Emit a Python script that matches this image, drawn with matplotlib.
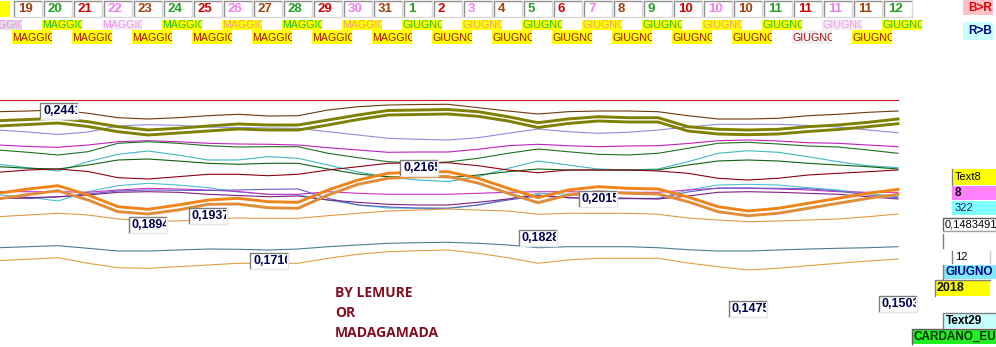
import numpy as np
import matplotlib.pyplot as plt
from matplotlib.patches import Rectangle

# ---- data (y = screen row of each series at each date slot) ----
days = [19, 20, 21, 22, 23, 24, 25, 26, 27, 28, 29, 30, 31, 1, 2, 3, 4, 5, 6, 7,
        8, 9, 10, 10, 10, 11, 11, 11, 11, 12]
day_colors = ['#a0400a', '#20a020', '#d00000', '#f080f0']

row2_months = ['MAGGIO', 'MAGGIO', 'MAGGIO', 'MAGGIO', 'MAGGIO', 'MAGGIO', 'MAGGIO',
               'GIUGNO', 'GIUGNO', 'GIUGNO', 'GIUGNO', 'GIUGNO', 'GIUGNO', 'GIUGNO',
               'GIUGNO', 'GIUGNO']
row2_text = ['#f090f0', '#20c020', '#f090f0', '#20c020', '#f0a070', '#20c020', '#f0a070',
             '#20c020', '#f0a070', '#20c020', '#f0a070', '#20c020', '#f0a070', '#20c020',
             '#f0a0f0', '#20c020']
row2_bg = ['#e4dce4', '#ffff00', '#f6eef6', '#ffff00', '#ffff00', '#ffff00', '#ffff00',
           '#ffff00', '#ffff00', '#ffff00', '#ffff00', '#ffff00', '#ffff00', '#ffff00',
           '#f4eaf4', '#ffff00']
row3_months = ['MAGGIO', 'MAGGIO', 'MAGGIO', 'MAGGIO', 'MAGGIO', 'MAGGIO', 'MAGGIO',
               'GIUGNO', 'GIUGNO', 'GIUGNO', 'GIUGNO', 'GIUGNO', 'GIUGNO', 'GIUGNO',
               'GIUGNO']
row3_bg = ['#ffff00'] * 13 + ['#f0f0f0', '#ffff00']

red_top = [100, 100, 100, 100, 100, 100, 100, 100, 100, 100, 100, 100, 100, 100, 100, 100,
           100, 100, 100, 100, 100, 100, 100, 100, 100, 100, 100, 100, 100, 100, 100]
brown = [111.7, 111, 110, 113.3, 117.7, 119, 117.7, 115.7, 114.3, 116, 115.7, 110, 106.7, 105,
         104.5, 104.3, 107.7, 111, 114, 111.7, 111, 111, 111.7, 115.7, 119, 119, 118.3, 115.7,
         114.3, 112.3, 111]
olive_a = [120.7, 119.5, 118.3, 121.7, 126.7, 130, 128.3, 126, 124, 125, 125, 120, 115, 110.5,
           110, 109.5, 111.7, 116.7, 122.7, 119, 116.7, 117.7, 117.7, 126.7, 129.3, 130, 129.3,
           126.7, 125, 122.3, 119]
olive_b = [126, 124.5, 123, 126.5, 131.7, 135, 133, 131, 129, 130, 130, 125, 119.5, 115, 114.5,
           114, 116.3, 121, 127.5, 123.5, 121, 122, 122, 131, 134, 134.7, 134, 131.5, 129.5,
           126.7, 123.7]
lavender = [130, 132, 134.5, 132, 126, 124.7, 125.3, 127, 127.5, 128, 128.3, 131.7, 135, 138.3,
            139.3, 140, 137.7, 133.3, 129, 131.7, 133.3, 132.3, 130, 127, 124.3, 124.3, 124.3,
            125.5, 127, 130, 132.7]
magenta = [145, 146.5, 147.3, 145, 141.7, 140.7, 141.7, 143.3, 144, 144.3, 145, 147.7, 150,
           152.3, 152, 152, 149.3, 145.7, 144.3, 145.7, 146.7, 146, 145.7, 143.5, 140.7, 140,
           141, 142.7, 143.3, 145, 146.7]
green = [150, 152.3, 155, 151.7, 143.3, 141.7, 143.3, 145.7, 147, 146.7, 146.7, 153.3, 157.7,
         161.7, 163, 162, 158.3, 153.3, 149, 151.7, 154.3, 155, 153.3, 148.3, 143.3, 142.3, 144,
         146, 147, 150, 153.3]
cyan = [164.3, 167.7, 171, 161.7, 154.3, 151, 155, 160, 160, 156.7, 158.3, 165, 172, 177, 180,
        181.5, 176.7, 168.3, 161, 165, 169, 170, 169, 161.7, 153.3, 150.7, 152.3, 156.7, 161.7,
        165.7, 167.7]
green2 = [166.7, 168.3, 169, 165, 160, 159, 161, 163.3, 164.3, 163.3, 163.3, 169, 174, 176.7,
          177, 177.7, 175, 171.7, 169, 170, 170, 170, 170, 165, 161, 160, 161, 163.3, 165,
          166.7, 169]
dark_red = [172.3, 170, 169, 171.5, 177.7, 179, 176.7, 174.3, 174.3, 175.7, 174.3, 170, 166.7,
            163.3, 163, 162.7, 165.7, 170, 172.7, 170, 170, 170, 171, 173.3, 178.3, 180, 178.3,
            175, 173.3, 171.7, 170]
cyan2 = [195, 197, 201, 191.7, 185.7, 183.3, 185, 187.7, 192, 194.3, 195, 200, 205, 208, 208.3,
         208.3, 205, 199, 193.3, 194.3, 196.7, 198.3, 198.3, 190, 185, 184.3, 185, 187.7, 190,
         193.3, 196.7]
magenta2 = [191.7, 191.7, 191.7, 192.3, 190, 188.3, 189, 190, 191.5, 194.3, 194.3, 191.7, 193.3,
            194.3, 194.3, 194.3, 193.3, 192.3, 191.7, 191.7, 192.3, 192.3, 192.3, 190, 188.3,
            188.3, 189, 190, 191.7, 192.3, 192.3]
purple = [198.3, 197.7, 196.7, 195, 192.3, 191.7, 192.3, 194.3, 195.5, 196.7, 196, 200, 202.3,
          204.3, 205, 205, 202.3, 199, 195, 197.7, 198.3, 198.3, 199, 196, 192.3, 191.7, 192.3,
          193.3, 194.3, 196.7, 199]
blue_purple = [198, 198.5, 197, 194, 191, 190, 190.3, 190.5, 190, 189.3, 189, 198.3, 205, 207,
               208, 208.3, 205, 200, 196, 197.7, 198.7, 198.7, 198.7, 192, 188, 188, 188.3,
               188.7, 191, 195, 197.7]
orange_a = [193.3, 189, 185.7, 195, 206.7, 209.3, 205, 200, 198.3, 201.7, 202.3, 190, 180, 173.3,
            172, 171.7, 178.3, 188.3, 197.7, 190, 186.7, 188.3, 189, 197, 206.7, 211, 208.3,
            203.3, 198.3, 193.3, 189.3]
orange_b = [199, 194.5, 190.7, 200, 211.7, 214, 210, 204.3, 204, 207.7, 208.3, 195, 184.3, 178.3,
            176.7, 176.5, 183, 193.3, 202.7, 195, 191.7, 193.3, 194, 201.7, 211.7, 215.7, 213.3,
            208.3, 203.3, 198.3, 194.3]
light_orange = [216.7, 215, 213.3, 215, 219, 221, 221, 219, 218, 218.3, 218.3, 215.7, 213.3, 211,
                210, 209, 210, 211, 214.3, 213.3, 213.3, 213.3, 214.3, 218, 220, 221.7, 221, 220,
                219, 216.7, 214]
teal = [247.7, 246.7, 245.7, 248.3, 251, 251, 250, 249, 249.3, 250, 249, 246.7, 245, 243.3, 242.7,
        242.3, 243.3, 245, 247.7, 246.7, 246.7, 246.7, 247.7, 249.7, 251, 251, 250, 249, 248.3,
        247.7, 246.7]
orange_low = [260.7, 259.3, 257.7, 263.3, 267.7, 268.3, 266.7, 265, 263.3, 263.3, 263.3, 258.3,
              254.3, 251.7, 250.7, 250, 253.3, 257.7, 263.3, 260, 258.3, 258.3, 258.3, 263, 266.7,
              270, 268.3, 265.7, 263.3, 261, 259]

value_labels = ['0,2441', '0,2165', '0,1894', '0,1937', '0,1710', '0,2015', '0,1828', '0,1475',
                '0,1503']
value_pos = [(40, 103), (400, 160), (129, 217), (189, 208), (250, 253), (579, 191), (519, 230),
             (729, 301), (879, 296)]

# ---- figure: one axes in screen units ----
W, H = 996, 347
fig = plt.figure(figsize=(W / 100, H / 100), dpi=100)
ax = fig.add_axes([0, 0, 1, 1])
ax.set_xlim(0, W)
ax.set_ylim(H, 0)
ax.axis('off')

FONT = ['Liberation Sans', 'DejaVu Sans']


def bevel_box(x, y, w, h, face, dark='#808080', light='#e0e0e0', z=5):
    ax.add_patch(Rectangle((x, y), w, h, facecolor=face, edgecolor='none', zorder=z))
    ax.plot([x, x, x + w], [y + h, y, y], color=dark, lw=1, zorder=z + 0.1,
            solid_capstyle='butt')
    ax.plot([x, x + w, x + w], [y + h, y + h, y], color=light, lw=1, zorder=z + 0.1,
            solid_capstyle='butt')


def clipped_text(x, y, w, h, s, color, size, weight='normal', pad=3, z=6):
    t = ax.text(x + pad, y + h / 2, s, color=color, fontsize=size, fontweight=weight,
                va='center', ha='left', family=FONT, zorder=z)
    # text is cut at the control's edge, like the fixed-width boxes on the form
    t.set_clip_path(Rectangle((x, y), w, h, transform=ax.transData))
    t.set_clip_on(True)
    return t


# date boxes
slot_left = [14 + 30 * i for i in range(-1, len(days))]
node_x = np.array(slot_left) + 14
ax.add_patch(Rectangle((0, 1), 10, 16, facecolor='#ffff00', edgecolor='none', zorder=5))
for i, d in enumerate(days):
    x0 = slot_left[i + 1]
    bevel_box(x0, 1, 28, 16, 'white', dark='#909090', light='#d8d8d8')
    clipped_text(x0, 1, 28, 16, str(d), day_colors[i % 4], 9.5, weight='bold', pad=4)

# month rows
for j, m in enumerate(row2_months):
    x0 = -18 + 60 * j
    ax.add_patch(Rectangle((x0, 20), 40, 10, facecolor=row2_bg[j], edgecolor='none', zorder=4))
    clipped_text(x0, 19, 40, 11, m, row2_text[j], 7.7, pad=0.5)
for j, m in enumerate(row3_months):
    x0 = 12 + 60 * j
    ax.add_patch(Rectangle((x0, 30), 40, 14, facecolor=row3_bg[j], edgecolor='none', zorder=4))
    clipped_text(x0, 31, 40, 13, m, '#a81010', 7.7, pad=0.5)

# B>R / R>B buttons
ax.add_patch(Rectangle((963, 0), 30, 15, facecolor='#ffc0c8', edgecolor='none', zorder=4))
ax.text(968, 8, 'B>R', color='#e00000', fontsize=8.5, fontweight='bold', va='center',
        family=FONT, zorder=6)
ax.add_patch(Rectangle((963, 22), 30, 18, facecolor='#c8ffff', edgecolor='none', zorder=4))
ax.text(968, 31, 'R>B', color='#000080', fontsize=8.5, fontweight='bold', va='center',
        family=FONT, zorder=6)

# series lines
thin = [(red_top, '#c81818'), (brown, '#6e3a10'), (lavender, '#8c8ce0'),
        (magenta, '#c020c0'), (green, '#207020'), (cyan, '#40b8c0'), (green2, '#106010'),
        (dark_red, '#900018'), (cyan2, '#50c0c8'), (magenta2, '#c830c8'),
        (blue_purple, '#6060c8'), (purple, '#802080'), (light_orange, '#e09848'),
        (teal, '#4a7e90'), (orange_low, '#e0a040')]
for vals, col in thin:
    ax.plot(node_x, vals, color=col, lw=0.8, zorder=2)
for vals, col in [(olive_a, '#808000'), (olive_b, '#808000'), (orange_a, '#f08418'),
                  (orange_b, '#e08c38')]:
    ax.plot(node_x, vals, color=col, lw=2.1, zorder=3)

# value boxes
for s, (x0, y0) in zip(value_labels, value_pos):
    bevel_box(x0, y0, 38, 16, 'white', dark='#7c7c7c', light='#e4e4e4')
    clipped_text(x0 + 1, y0, 36, 16, s, '#000050', 9, weight='bold', pad=2)

# right side panel
ax.add_patch(Rectangle((952, 169), 44, 16, facecolor='#ffff00', edgecolor='none', zorder=4))
ax.plot([952, 952], [169, 185], color='#808080', lw=1, zorder=5)
ax.text(955, 177, 'Text8', color='black', fontsize=8, va='center', family=FONT, zorder=6)
ax.add_patch(Rectangle((952, 186), 44, 14, facecolor='#ff80ff', edgecolor='none', zorder=4))
ax.text(955, 193, '8', color='#200020', fontsize=8.5, fontweight='bold', va='center',
        family=FONT, zorder=6)
ax.add_patch(Rectangle((952, 201), 44, 14, facecolor='#80ffff', edgecolor='none', zorder=4))
ax.text(955, 208, '322', color='#202060', fontsize=8, va='center', family=FONT, zorder=6)
bevel_box(943, 218, 53, 13, 'white', dark='#606060', light='#a0a0a0')
clipped_text(943, 218, 53, 13, '0,1483491', 'black', 8, pad=1.5)
ax.plot([943, 943], [234, 248], color='#808080', lw=1, zorder=5)
ax.plot([952, 952], [251, 263], color='#808080', lw=1, zorder=5)
ax.plot([990, 990], [251, 263], color='#d0d0d0', lw=1, zorder=5)
ax.text(955, 257, '12', color='black', fontsize=8, va='center', family=FONT, zorder=6)
ax.add_patch(Rectangle((943, 265), 53, 14, facecolor='#80e8ff', edgecolor='none', zorder=4))
ax.plot([943, 943], [265, 279], color='#808080', lw=1, zorder=5)
clipped_text(943, 265, 53, 14, 'GIUGNO', '#000080', 8.5, weight='bold', pad=2)
ax.add_patch(Rectangle((935, 280), 55, 16, facecolor='#ffff00', edgecolor='none', zorder=4))
ax.plot([935, 935, 990], [296, 280, 280], color='#808080', lw=1, zorder=5)
ax.text(937, 288, '2018', color='#101010', fontsize=9, fontweight='bold', va='center',
        family=FONT, zorder=6)
ax.add_patch(Rectangle((943, 313), 53, 15, facecolor='#c8ffff', edgecolor='none', zorder=4))
ax.plot([943, 943, 996], [328, 313, 313], color='#808080', lw=1, zorder=5)
ax.text(946, 321, 'Text29', color='black', fontsize=8.5, fontweight='bold', va='center',
        family=FONT, zorder=6)
ax.add_patch(Rectangle((912, 329), 84, 15, facecolor='#20f020', edgecolor='none', zorder=4))
ax.plot([912, 912, 996], [344, 329, 329], color='#606060', lw=1, zorder=5)
clipped_text(912, 329, 84, 15, 'CARDANO_EURO', '#003000', 8.5, weight='bold', pad=2)

# signature
for k, s in enumerate(['BY LEMURE', 'OR', 'MADAGAMADA']):
    ax.text(335, 293 + 20 * k, s, color='#801020', fontsize=10, fontweight='bold',
            va='center', ha='left', family=['Open Sans', 'DejaVu Sans'], zorder=6)

fig.savefig('out.png', dpi=100)
